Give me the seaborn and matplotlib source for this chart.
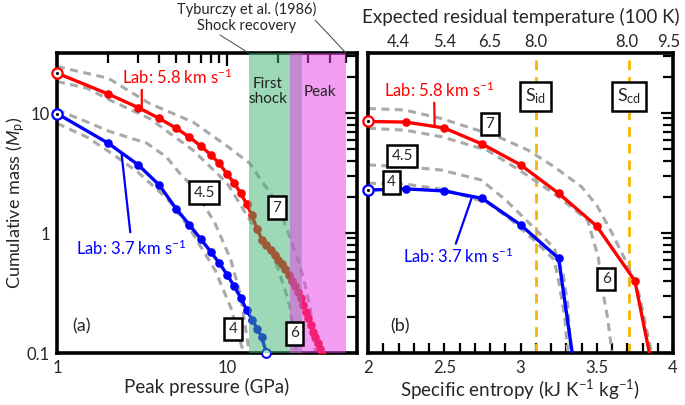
import numpy as np
import matplotlib.pyplot as plt
import seaborn as sns
from matplotlib.ticker import FixedLocator, NullFormatter, MultipleLocator

sns.set_style("white")
plt.rcParams['font.family'] = ['Lato', 'DejaVu Sans']
plt.rcParams['mathtext.fontset'] = 'custom'
plt.rcParams['mathtext.rm'] = 'Lato'
plt.rcParams['mathtext.it'] = 'Lato:italic'

# ---------------- panel (a): cumulative mass vs peak pressure ----------------
pres_58 = list(range(1, 37))
mass_58 = [21.5, 14.4, 11.1, 9.0, 7.5, 6.3, 5.3, 4.5, 3.8, 3.1, 2.6, 2.15, 1.75,
           1.4, 1.08, 0.88, 0.8, 0.72, 0.66, 0.6, 0.55, 0.5, 0.45, 0.4, 0.36,
           0.32, 0.285, 0.25, 0.22, 0.195, 0.17, 0.15, 0.135, 0.12, 0.108, 0.097]
pres_37 = list(range(1, 18))
mass_37 = [9.9, 5.6, 3.7, 2.5, 1.6, 1.17, 0.89, 0.7, 0.56, 0.45, 0.36, 0.29,
           0.23, 0.19, 0.16, 0.135, 0.1]

# model curves (gray dashed), labelled by impact velocity
pres_v7 = [1, 2, 3.5, 6.3, 10, 13.6, 16.3, 19.1, 21.3, 22.9, 24.5, 26.1, 28, 30.8, 33]
mass_v7 = [24.4, 19.5, 12.0, 8.4, 5.3, 3.8, 2.6, 1.9, 1.3, 1.0, 0.76, 0.6, 0.43, 0.24, 0.1]
pres_v6 = [1, 1.5, 2.05, 3.5, 6.3, 10, 14, 18.3, 21.9, 23.4, 25.5]
mass_v6 = [18.3, 16.1, 12.8, 9.0, 4.9, 2.6, 1.2, 0.72, 0.335, 0.24, 0.1]
pres_v45 = [1, 1.42, 2.05, 3.37, 4.4, 5.3, 6.3, 8.5, 10.5, 12.0, 13.5]
mass_v45 = [10.6, 8.7, 7.0, 5.6, 4.3, 3.1, 2.43, 1.2, 0.6, 0.3, 0.1]
pres_v4 = [1, 1.5, 2.1, 3.0, 4.5, 6.0, 8.5, 10.5, 12.5]
mass_v4 = [8.2, 6.3, 4.6, 3.2, 1.9, 1.1, 0.49, 0.24, 0.1]

# Tyburczy et al. (1986) shock recovery ranges (GPa)
first_shock = (13.4, 27.7)
peak_range = (23.4, 50.0)

# ---------------- panel (b): cumulative mass vs specific entropy ----------------
ent_58 = [2.0, 2.25, 2.5, 2.75, 3.0, 3.25, 3.5, 3.75, 3.87]
smass_58 = [8.5, 8.4, 7.5, 5.5, 3.7, 2.14, 1.14, 0.40, 0.07]
ent_37 = [2.0, 2.25, 2.5, 2.75, 3.0, 3.25, 3.35]
smass_37 = [2.28, 2.33, 2.24, 1.94, 1.17, 0.615, 0.08]

ent_v7 = [2.0, 2.24, 2.48, 2.68, 2.85, 3.05, 3.22, 3.40, 3.5, 3.6, 3.7, 3.78, 3.83, 3.86]
smass_v7 = [10.9, 10.6, 9.0, 7.46, 6.35, 4.9, 3.57, 2.43, 1.7, 1.0, 0.55, 0.3, 0.15, 0.1]
ent_v6 = [2.0, 2.24, 2.48, 2.78, 3.0, 3.25, 3.44, 3.51, 3.53, 3.57, 3.6]
smass_v6 = [7.46, 7.2, 6.35, 4.9, 3.3, 2.0, 1.28, 0.63, 0.38, 0.2, 0.1]
ent_v45 = [2.0, 2.24, 2.48, 2.74, 2.9, 3.09, 3.22, 3.28, 3.31, 3.33]
smass_v45 = [3.69, 3.57, 3.35, 2.77, 1.9, 1.1, 0.75, 0.45, 0.25, 0.1]
ent_v4 = [2.0, 2.25, 2.5, 2.79, 2.94, 3.09, 3.22, 3.25, 3.29, 3.31]
smass_v4 = [2.6, 2.55, 2.3, 1.77, 1.28, 0.87, 0.6, 0.4, 0.2, 0.1]

s_id, s_cd = 3.1, 3.71
temp_pos = [2.2, 2.5, 2.8, 3.1, 3.7, 3.97]
temp_labels = ['4.4', '5.4', '6.5', '8.0', '8.0', '9.5']

RED, BLUE, GRAY = '#ff0000', '#0000ff', '#a9a9a9'
DASH = (0, (2.6, 1.8))

fig = plt.figure(figsize=(6.85, 4.05), dpi=100)
W, H = 685, 405
ax1 = fig.add_axes([57 / W, 52 / H, 300 / W, 300 / H])
ax2 = fig.add_axes([368 / W, 52 / H, 305 / W, 300 / H])


def style_axes(ax):
    for s in ax.spines.values():
        s.set_linewidth(2.6)
        s.set_color('black')
    ax.tick_params(which='both', direction='in', top=True, right=True,
                   width=1.6, color='black', labelsize=12, pad=5)
    ax.tick_params(which='major', length=9)
    ax.tick_params(which='minor', length=7)


def draw_lab(ax, x, y, color):
    sns.lineplot(x=x, y=y, ax=ax, color=color, lw=2.4, marker='o', ms=6.2,
                 mec=color, mew=0, estimator=None, sort=False, zorder=3)
    sns.scatterplot(x=x[:1], y=y[:1], ax=ax, s=55, color='white', edgecolor=color,
                    linewidth=1.6, zorder=6, clip_on=False)
    sns.scatterplot(x=x[:1], y=y[:1], ax=ax, s=5, color='black', linewidth=0,
                    zorder=7, clip_on=False)


def draw_model(ax, x, y):
    sns.lineplot(x=x, y=y, ax=ax, color=GRAY, lw=2.2, linestyle=DASH,
                 estimator=None, sort=False, zorder=2)


def box(ax, x, y, s, fs=11):
    ax.text(x, y, s, ha='center', va='center', fontsize=fs, zorder=8,
            bbox=dict(boxstyle='square,pad=0.28', fc='white', ec='black', lw=1.8))


# ---- panel (a)
ax1.set_xscale('log')
ax1.set_yscale('log')
for px, my in [(pres_v7, mass_v7), (pres_v6, mass_v6), (pres_v45, mass_v45), (pres_v4, mass_v4)]:
    draw_model(ax1, px, my)
draw_lab(ax1, pres_58, mass_58, RED)
draw_lab(ax1, pres_37, mass_37, BLUE)
# last blue point is open
sns.scatterplot(x=pres_37[-1:], y=mass_37[-1:], ax=ax1, s=40, color='white', edgecolor=BLUE,
                linewidth=1.4, zorder=4, clip_on=False)

ax1.axvspan(*first_shock, color='#3cb371', alpha=0.5, lw=0, zorder=5)
ax1.axvspan(*peak_range, color='#e83fe8', alpha=0.5, lw=0, zorder=5.1)

ax1.set_xlim(1, 58)
ax1.set_ylim(0.1, 10 ** 1.5)
style_axes(ax1)
ax1.xaxis.set_major_locator(FixedLocator([1, 10]))
ax1.xaxis.set_minor_locator(FixedLocator([2, 3, 4, 5, 6, 7, 8, 9, 20, 30, 40, 50]))
ax1.set_xticklabels(['1', '10'])
ax1.xaxis.set_minor_formatter(NullFormatter())
ax1.yaxis.set_major_locator(FixedLocator([0.1, 1, 10]))
ax1.yaxis.set_minor_locator(FixedLocator([k * 0.1 for k in range(2, 10)] + list(range(2, 10)) + [20, 30]))
ax1.set_yticklabels(['0.1', '1', '10'])
ax1.yaxis.set_minor_formatter(NullFormatter())
ax1.set_xlabel('Peak pressure (GPa)', fontsize=13.5)
ax1.set_ylabel('Cumulative mass ($M_\\mathrm{p}$)', fontsize=13)
ax1.xaxis.set_label_coords(0.5, -0.082)
ax1.yaxis.set_label_coords(-0.1, 0.5)

ax1.text(17.4, 15, 'First\nshock', ha='center', va='center', fontsize=11, color='#222222', zorder=9,
         linespacing=1.1)
ax1.text(35.2, 15, 'Peak', ha='center', va='center', fontsize=11, color='#222222', zorder=9)
ax1.text(0.082, 0.088, '(a)', transform=ax1.transAxes, ha='center', va='center', fontsize=13)

ax1.annotate('Lab: 5.8 km s$^{-1}$', xy=(3.15, 10.6), xytext=(5.08, 20), color=RED, fontsize=12,
             ha='center', va='center', zorder=9,
             arrowprops=dict(arrowstyle='-', color=RED, lw=1.6, shrinkA=0, shrinkB=0,
                             relpos=(0.18, 0.0)))
ax1.annotate('Lab: 3.7 km s$^{-1}$', xy=(2.4, 4.47), xytext=(2.72, 0.75), color=BLUE, fontsize=12,
             ha='center', va='center', zorder=9,
             arrowprops=dict(arrowstyle='-', color=BLUE, lw=1.6, shrinkA=2, shrinkB=0,
                             relpos=(0.5, 1.0)))
box(ax1, 19.6, 1.63, '7')
box(ax1, 7.33, 2.17, '4.5')
box(ax1, 10.8, 0.158, '4')
box(ax1, 24.8, 0.146, '6')

# Tyburczy et al. label with leader lines to band tops
fig.text(247 / W, 1 - 9 / H, 'Tyburczy et al. (1986)', ha='center', va='center', fontsize=10.5)
fig.text(247 / W, 1 - 26 / H, 'Shock recovery', ha='center', va='center', fontsize=10.5)
for xb, start in [(first_shock[0], (220, H - 35)), (peak_range[1], (315, H - 20))]:
    ax1.annotate('', xy=(xb, 10 ** 1.5), xytext=start, textcoords='figure pixels',
                 arrowprops=dict(arrowstyle='-', color='#444444', lw=0.7, shrinkA=0, shrinkB=0),
                 annotation_clip=False)

# ---- panel (b)
ax2.set_yscale('log')
for ex, my in [(ent_v7, smass_v7), (ent_v6, smass_v6), (ent_v45, smass_v45), (ent_v4, smass_v4)]:
    draw_model(ax2, ex, my)
draw_lab(ax2, ent_58, smass_58, RED)
draw_lab(ax2, ent_37, smass_37, BLUE)
for xv in (s_id, s_cd):
    ax2.axvline(xv, color='#f7b500', lw=2.0, ls=(0, (3.5, 2.5)), zorder=1)

ax2.set_xlim(2, 4)
ax2.set_ylim(0.1, 10 ** 1.5)
style_axes(ax2)
ax2.tick_params(axis='y', which='both', left=False, labelleft=False)
ax2.xaxis.set_major_locator(FixedLocator([2, 2.5, 3, 3.5, 4]))
ax2.xaxis.set_minor_locator(MultipleLocator(0.1))
ax2.set_xticklabels(['2', '2.5', '3', '3.5', '4'])
ax2.tick_params(axis='x', which='major', length=7)
ax2.yaxis.set_major_locator(FixedLocator([0.1, 1, 10]))
ax2.yaxis.set_minor_locator(FixedLocator([k * 0.1 for k in range(2, 10)] + list(range(2, 10)) + [20, 30]))
ax2.yaxis.set_major_formatter(NullFormatter())
ax2.yaxis.set_minor_formatter(NullFormatter())
ax2.set_xlabel('Specific entropy (kJ K$^{-1}$ kg$^{-1}$)', fontsize=13.5)
ax2.xaxis.set_label_coords(0.5, -0.082)

top = ax2.twiny()
top.set_xlim(2, 4)
top.set_xticks(temp_pos)
top.set_xticklabels(temp_labels)
top.tick_params(axis='x', length=0, labelsize=12, pad=2)
for s in top.spines.values():
    s.set_visible(False)
top.set_xlabel('Expected residual temperature (100 K)', fontsize=13.5, labelpad=8)

ax2.text(0.104, 0.088, '(b)', transform=ax2.transAxes, ha='center', va='center', fontsize=13)
ax2.annotate('Lab: 5.8 km s$^{-1}$', xy=(2.437, 7.94), xytext=(2.47, 15.6), color=RED, fontsize=12,
             ha='center', va='center', zorder=9,
             arrowprops=dict(arrowstyle='-', color=RED, lw=1.6, shrinkA=0, shrinkB=0,
                             relpos=(0.45, 0.0)))
ax2.annotate('Lab: 3.7 km s$^{-1}$', xy=(2.68, 1.96), xytext=(2.59, 0.634), color=BLUE, fontsize=12,
             ha='center', va='center', zorder=9,
             arrowprops=dict(arrowstyle='-', color=BLUE, lw=1.6, shrinkA=0, shrinkB=0,
                             relpos=(0.47, 1.0)))
box(ax2, 2.80, 8.1, '7')
box(ax2, 2.224, 4.39, '4.5')
box(ax2, 2.153, 2.64, '4')
box(ax2, 3.562, 0.414, '6')
box(ax2, s_id, 13.7, 'S$_{\\mathrm{id}}$', fs=13)
box(ax2, s_cd, 13.7, 'S$_{\\mathrm{cd}}$', fs=13)

fig.savefig('out.png', dpi=100)
